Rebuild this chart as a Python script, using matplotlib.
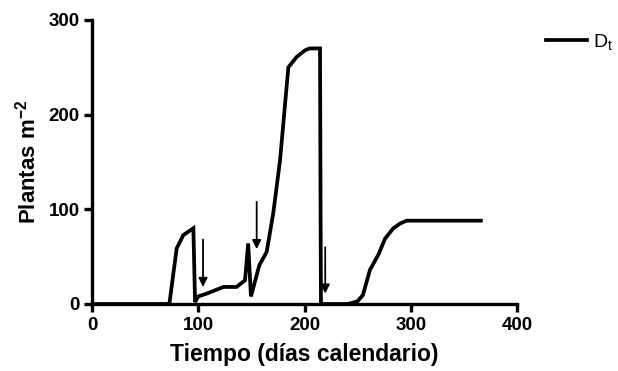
import matplotlib
matplotlib.use('Agg')
import matplotlib.pyplot as plt

# densidad de plantas a lo largo del año
dias = [0, 72.8, 79.7, 86, 95.4, 97, 100, 108, 123.6, 136, 144, 147, 149.6, 157.5,
        164.4, 170.6, 177, 184.8, 192.6, 200.5, 205, 214.6, 215.2, 215.5, 241,
        250, 255, 261.6, 269.5, 275.8, 283.6, 290, 296, 366]
plantas = [0, 0, 58.8, 72.9, 80, 2, 8, 11, 18, 18, 25, 64, 8, 41,
           55, 96, 152, 250, 261, 268, 270, 270, 78, 0, 0,
           3, 9.5, 36, 52, 69, 80, 85, 88, 88]

# aplicaciones (flechas): dia, inicio, punta
flecha_dia = [104.5, 155, 219.5]
flecha_ini = [68, 108, 60]
flecha_fin = [18, 58, 11]

plt.rcParams['font.family'] = ['Liberation Sans', 'DejaVu Sans']
plt.rcParams['mathtext.fontset'] = 'custom'
plt.rcParams['mathtext.rm'] = 'Liberation Sans'
plt.rcParams['mathtext.bf'] = 'Liberation Sans:bold'
plt.rcParams['mathtext.default'] = 'regular'
plt.rcParams['axes.unicode_minus'] = False

fig = plt.figure(figsize=(6.18, 3.71), dpi=100)
ax = fig.add_axes([92/618., 67/371., 425/618., 284/371.])

ax.plot(dias, plantas, color='black', lw=2.7, solid_joinstyle='miter', label='D$_t$')

for d, y0, y1 in zip(flecha_dia, flecha_ini, flecha_fin):
    ax.annotate('', xy=(d, y1), xytext=(d, y0),
                arrowprops=dict(arrowstyle='-|>', color='black', lw=1.3,
                                mutation_scale=13, shrinkA=0, shrinkB=0))

ax.set_xlim(0, 400)
ax.set_ylim(0, 300)
ax.set_xticks([0, 100, 200, 300, 400])
ax.set_yticks([0, 100, 200, 300])
for s in ['top', 'right']:
    ax.spines[s].set_visible(False)
for s in ['left', 'bottom']:
    ax.spines[s].set_linewidth(2.4)
ax.tick_params(width=2.4, length=6, labelsize=13.5, pad=3)
for t in ax.get_xticklabels() + ax.get_yticklabels():
    t.set_fontweight('bold')

ax.set_xlabel('Tiempo (días calendario)', fontsize=16.5, fontweight='bold', labelpad=7)
ax.set_ylabel('Plantas m$^{\\mathbf{-2}}$', fontsize=16, fontweight='bold', labelpad=6)

leg = ax.legend(loc='center left', bbox_to_anchor=(546/618., 1 - 42/371.),
                bbox_transform=fig.transFigure, frameon=False, borderpad=0,
                borderaxespad=0, fontsize=14, handlelength=2.1, handletextpad=0.3)

fig.savefig('out.png', dpi=100)
